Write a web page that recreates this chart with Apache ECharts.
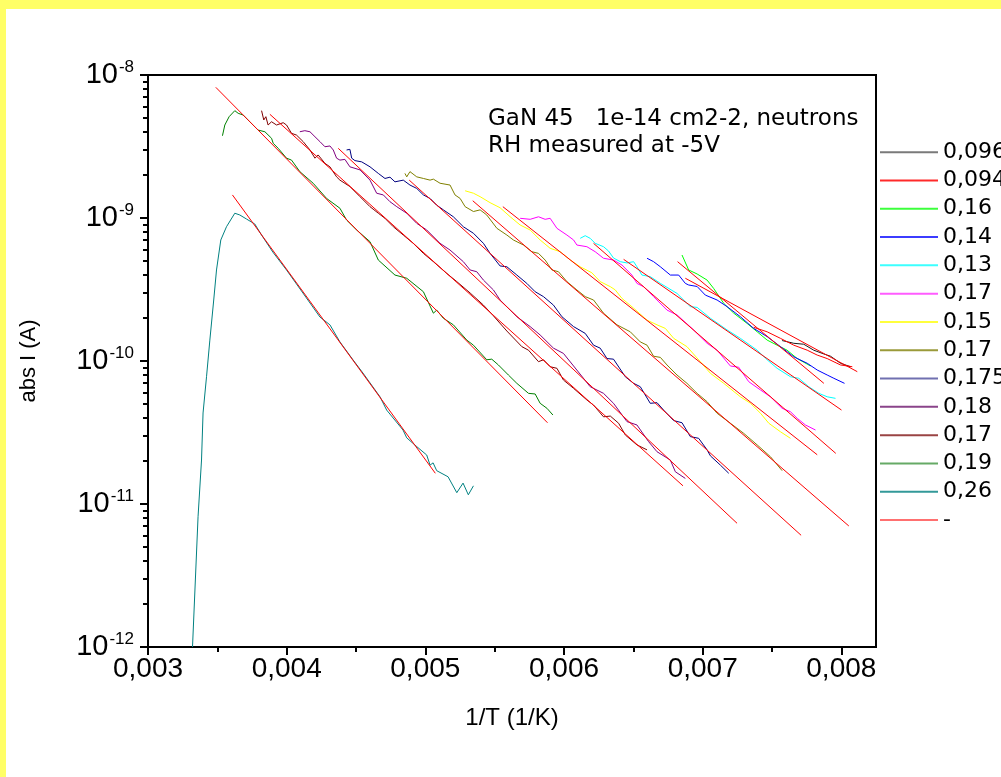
<!DOCTYPE html>
<html><head><meta charset="utf-8">
<script src="https://cdn.jsdelivr.net/npm/echarts@6/dist/echarts.min.js"></script>
<style>
html,body{margin:0;padding:0;background:#ffff66;overflow:hidden;}
#wrap{position:absolute;left:0;top:0;width:1001px;height:777px;background:#ffff66;}
#chart{position:absolute;left:6px;top:9px;width:995px;height:768px;background:#ffffff;}
</style></head><body>
<div id="wrap"><div id="chart"></div></div>
<script>
// ---- legend / series names and colours ----
const seriesNames = ['0,096','0,094','0,16','0,14','0,13','0,17','0,15','0,17\u200b','0,175','0,18','0,17\u200b\u200b','0,19','0,26','-'];
const seriesColors = ['#1a1a1a','#ff0000','#00ff00','#0000ff','#00ffff','#ff00ff','#ffff00','#808000','#000080','#800080','#800000','#008000','#008080','#ff0000'];
const legendColors = ['#7a7a7a','#ff2a2a','#3cff3c','#3c3cff','#3cffff','#ff5cff','#ffff3c','#9a9a3a','#7070b0','#8a448a','#9a4444','#66aa66','#339999','#ff7070'];

// ---- axis ticks ----
const xTicks = [0.003, 0.004, 0.005, 0.006, 0.007, 0.008];
const xMinorTicks = [0.0035, 0.0045, 0.0055, 0.0065, 0.0075];
const yTicks = [1e-12, 1e-11, 1e-10, 1e-9, 1e-8];
const yMinorTicks = [2e-12,3e-12,4e-12,5e-12,6e-12,7e-12,8e-12,9e-12,
  2e-11,3e-11,4e-11,5e-11,6e-11,7e-11,8e-11,9e-11,
  2e-10,3e-10,4e-10,5e-10,6e-10,7e-10,8e-10,9e-10,
  2e-9,3e-9,4e-9,5e-9,6e-9,7e-9,8e-9,9e-9];

// ---- data: 1/T (1/K) and abs I (A) ----
const x_0096 = [0.007573,0.007657,0.007729,0.007801,0.007874,0.007922,0.007994,0.008066];
const y_0096 = [1.39e-10,1.33e-10,1.31e-10,1.19e-10,1.12e-10,1.08e-10,9.64e-11,9.12e-11];

const x_0094 = [0.007368,0.007465,0.007561,0.007657,0.007754,0.007826,0.007898,0.007994,0.008079];
const y_0094 = [1.72e-10,1.60e-10,1.44e-10,1.29e-10,1.19e-10,1.10e-10,1.04e-10,9.38e-11,9.12e-11];

const x_016 = [0.006851,0.006899,0.006960,0.007032,0.007079,0.007152,0.007224,0.007321,0.007393,0.007465,0.007537,0.007609,0.007682,0.007778];
const y_016 = [5.51e-10,4.33e-10,4.06e-10,3.68e-10,3.22e-10,2.53e-10,2.16e-10,1.83e-10,1.60e-10,1.40e-10,1.29e-10,1.19e-10,1.04e-10,9.23e-11];

const x_014 = [0.006599,0.006646,0.006695,0.006767,0.006827,0.006875,0.006899,0.006960,0.007019,0.007104,0.007176,0.007272,0.007368,0.007465,0.007561,0.007657,0.007754,0.007826,0.007898,0.007946,0.008023];
const y_014 = [5.23e-10,4.95e-10,4.56e-10,3.99e-10,3.99e-10,3.49e-10,3.40e-10,3.32e-10,2.89e-10,2.67e-10,2.40e-10,2.04e-10,1.69e-10,1.48e-10,1.26e-10,1.07e-10,9.64e-11,8.65e-11,7.98e-11,7.57e-11,6.98e-11];

const x_013 = [0.006117,0.006153,0.006189,0.006225,0.006285,0.006321,0.006357,0.006406,0.006454,0.006502,0.006526,0.006562,0.006622,0.006695,0.006815,0.006911,0.006960,0.007056,0.007176,0.007272,0.007393,0.007465,0.007537,0.007633,0.007693,0.007765,0.007838,0.007898,0.007958];
const y_013 = [7.21e-10,7.52e-10,7.21e-10,6.65e-10,6.30e-10,5.88e-10,5.25e-10,4.95e-10,4.85e-10,4.95e-10,4.56e-10,3.99e-10,3.89e-10,3.49e-10,2.97e-10,2.40e-10,2.37e-10,1.99e-10,1.65e-10,1.44e-10,1.19e-10,1.02e-10,8.89e-11,7.76e-11,7.57e-11,6.61e-11,5.94e-11,5.62e-11,5.48e-11];

const x_017m = [0.005684,0.005756,0.005816,0.005864,0.005900,0.005949,0.006021,0.006069,0.006093,0.006165,0.006225,0.006285,0.006357,0.006418,0.006490,0.006526,0.006574,0.006646,0.006743,0.006815,0.006923,0.007032,0.007104,0.007200,0.007260,0.007332,0.007417,0.007489,0.007573,0.007633,0.007682,0.007741,0.007814];
const y_017m = [9.95e-10,9.79e-10,1.02e-9,9.79e-10,9.95e-10,8.47e-10,7.60e-10,7.02e-10,6.47e-10,6.30e-10,5.81e-10,5.23e-10,5.08e-10,4.69e-10,3.99e-10,3.49e-10,3.31e-10,2.82e-10,2.27e-10,2.10e-10,1.69e-10,1.33e-10,1.19e-10,9.23e-11,9.04e-11,7.17e-11,6.27e-11,5.62e-11,4.67e-11,4.42e-11,3.97e-11,3.57e-11,3.29e-11];

const x_015 = [0.005287,0.005347,0.005395,0.005467,0.005539,0.005612,0.005684,0.005756,0.005828,0.005900,0.005973,0.006045,0.006117,0.006201,0.006261,0.006334,0.006370,0.006418,0.006502,0.006599,0.006671,0.006731,0.006791,0.006887,0.006983,0.007056,0.007152,0.007272,0.007345,0.007417,0.007477,0.007561,0.007633];
const y_015 = [1.55e-9,1.49e-9,1.41e-9,1.28e-9,1.18e-9,1.02e-9,8.93e-10,8.24e-10,7.02e-10,6.14e-10,5.81e-10,5.08e-10,4.56e-10,4.14e-10,3.59e-10,3.31e-10,3.14e-10,2.74e-10,2.34e-10,1.93e-10,1.79e-10,1.69e-10,1.44e-10,1.26e-10,9.89e-11,8.20e-11,6.98e-11,5.62e-11,5.06e-11,4.31e-11,3.67e-11,3.20e-11,2.88e-11];

const x_017o = [0.004853,0.004866,0.004889,0.004938,0.004986,0.005034,0.005058,0.005106,0.005178,0.005214,0.005251,0.005287,0.005347,0.005395,0.005443,0.005516,0.005588,0.005635,0.005708,0.005768,0.005816,0.005864,0.005913,0.005960,0.006021,0.006093,0.006153,0.006213,0.006285,0.006382,0.006478,0.006550,0.006599,0.006646,0.006695,0.006743,0.006815,0.006887,0.006960,0.007032,0.007104,0.007200,0.007296,0.007393,0.007489,0.007573];
const y_017o = [2.05e-9,1.94e-9,2.11e-9,1.94e-9,1.89e-9,1.84e-9,1.87e-9,1.75e-9,1.70e-9,1.45e-9,1.37e-9,1.20e-9,1.11e-9,1.14e-9,1.05e-9,8.47e-10,7.60e-10,7.02e-10,6.47e-10,5.81e-10,5.66e-10,5.08e-10,4.33e-10,4.21e-10,3.59e-10,3.14e-10,2.82e-10,2.67e-10,2.16e-10,1.79e-10,1.60e-10,1.36e-10,1.29e-10,1.08e-10,1.06e-10,9.38e-11,7.98e-11,6.98e-11,5.94e-11,5.19e-11,4.31e-11,3.67e-11,3.12e-11,2.59e-11,2.14e-11,1.71e-11];

const x_0175 = [0.004432,0.004456,0.004469,0.004492,0.004541,0.004601,0.004661,0.004709,0.004745,0.004781,0.004841,0.004889,0.004938,0.004986,0.005034,0.005082,0.005130,0.005202,0.005274,0.005347,0.005419,0.005467,0.005539,0.005588,0.005660,0.005732,0.005792,0.005852,0.005924,0.005985,0.006069,0.006153,0.006213,0.006261,0.006310,0.006357,0.006442,0.006502,0.006550,0.006622,0.006671,0.006718,0.006791,0.006851,0.006911,0.006971,0.007032,0.007056,0.007128,0.007188];
const y_0175 = [2.99e-9,3.02e-9,2.62e-9,2.52e-9,2.47e-9,2.28e-9,2.05e-9,1.89e-9,1.93e-9,1.79e-9,1.84e-9,1.70e-9,1.61e-9,1.45e-9,1.37e-9,1.23e-9,1.14e-9,1.02e-9,8.69e-10,7.82e-10,6.65e-10,5.66e-10,4.62e-10,4.56e-10,3.99e-10,3.49e-10,3.05e-10,2.82e-10,2.46e-10,2.04e-10,1.74e-10,1.56e-10,1.29e-10,1.23e-10,1.04e-10,1.03e-10,7.76e-11,6.98e-11,6.61e-11,5.06e-11,5.11e-11,4.54e-11,3.83e-11,3.70e-11,2.96e-11,2.88e-11,2.39e-11,2.17e-11,1.87e-11,1.64e-11];

const x_018 = [0.004095,0.004131,0.004168,0.004204,0.004240,0.004276,0.004312,0.004336,0.004360,0.004384,0.004420,0.004456,0.004529,0.004601,0.004649,0.004697,0.004745,0.004794,0.004866,0.004938,0.005010,0.005106,0.005178,0.005274,0.005323,0.005371,0.005419,0.005491,0.005539,0.005612,0.005660,0.005756,0.005828,0.005924,0.005996,0.006069,0.006189,0.006285,0.006357,0.006454,0.006526,0.006610,0.006671,0.006767,0.006803,0.006875];
const y_018 = [4.01e-9,4.08e-9,4.01e-9,3.70e-9,3.42e-9,3.15e-9,3.19e-9,2.99e-9,2.62e-9,2.54e-9,2.57e-9,2.28e-9,2.17e-9,1.84e-9,1.49e-9,1.45e-9,1.30e-9,1.20e-9,1.08e-9,9.18e-10,8.24e-10,6.65e-10,5.97e-10,4.95e-10,4.33e-10,4.21e-10,3.68e-10,3.14e-10,2.67e-10,2.27e-10,2.04e-10,1.74e-10,1.52e-10,1.23e-10,1.13e-10,9.23e-11,6.61e-11,5.94e-11,5.06e-11,3.77e-11,3.57e-11,2.73e-11,2.32e-11,2.03e-11,1.68e-11,1.51e-11];

const x_017w = [0.003819,0.003835,0.003850,0.003866,0.003891,0.003927,0.003975,0.003999,0.004035,0.004071,0.004119,0.004168,0.004204,0.004227,0.004276,0.004312,0.004360,0.004384,0.004456,0.004529,0.004601,0.004661,0.004709,0.004769,0.004841,0.004913,0.004986,0.005058,0.005154,0.005227,0.005323,0.005419,0.005491,0.005588,0.005696,0.005744,0.005816,0.005852,0.005900,0.005949,0.005996,0.006069,0.006165,0.006213,0.006285,0.006334,0.006394,0.006442,0.006526,0.006599];
const y_017w = [5.63e-9,4.85e-9,5.11e-9,4.47e-9,4.71e-9,4.47e-9,4.64e-9,4.47e-9,3.91e-9,3.80e-9,3.42e-9,2.99e-9,2.62e-9,2.76e-9,2.41e-9,2.28e-9,1.94e-9,1.84e-9,1.66e-9,1.41e-9,1.20e-9,1.08e-9,9.95e-10,8.69e-10,7.60e-10,6.65e-10,5.66e-10,4.95e-10,4.10e-10,3.59e-10,2.99e-10,2.46e-10,2.07e-10,1.62e-10,1.26e-10,1.19e-10,9.89e-11,1.02e-10,9.12e-11,8.89e-11,7.36e-11,6.44e-11,5.34e-11,4.92e-11,4.07e-11,4.12e-11,3.67e-11,3.04e-11,2.59e-11,2.39e-11];

const x_019 = [0.003537,0.003554,0.003585,0.003626,0.003650,0.003662,0.003686,0.003734,0.003794,0.003843,0.003891,0.003903,0.003939,0.003999,0.004035,0.004095,0.004191,0.004288,0.004384,0.004432,0.004505,0.004601,0.004661,0.004781,0.004866,0.004986,0.005058,0.005082,0.005130,0.005202,0.005299,0.005347,0.005443,0.005479,0.005527,0.005599,0.005660,0.005744,0.005792,0.005828,0.005877,0.005920];
const y_019 = [3.76e-9,4.47e-9,5.11e-9,5.63e-9,5.40e-9,5.54e-9,5.25e-9,4.71e-9,4.12e-9,4.01e-9,3.61e-9,3.33e-9,3.07e-9,2.62e-9,2.54e-9,2.11e-9,1.75e-9,1.37e-9,1.17e-9,9.68e-10,8.24e-10,6.83e-10,5.08e-10,3.99e-10,3.79e-10,3.05e-10,2.16e-10,2.27e-10,1.99e-10,1.79e-10,1.40e-10,1.29e-10,1.02e-10,1.03e-10,9.38e-11,7.98e-11,6.98e-11,5.94e-11,5.88e-11,5.06e-11,4.67e-11,4.19e-11];

const x_026 = [0.003321,0.003361,0.003386,0.003397,0.003422,0.003446,0.003474,0.003494,0.003525,0.003566,0.003626,0.003662,0.003710,0.003770,0.003819,0.003900,0.003999,0.004117,0.004240,0.004312,0.004384,0.004478,0.004550,0.004673,0.004721,0.004839,0.004866,0.004938,0.005010,0.005034,0.005056,0.005082,0.005164,0.005227,0.005272,0.005310,0.005347];
const y_026 = [1.0e-12,8.15e-12,2.03e-11,4.33e-11,7.76e-11,1.40e-10,2.67e-10,4.33e-10,7.02e-10,8.69e-10,1.08e-9,1.05e-9,9.84e-10,9.08e-10,7.60e-10,5.78e-10,4.33e-10,2.99e-10,2.03e-10,1.79e-10,1.36e-10,1.02e-10,8.24e-11,5.62e-11,4.54e-11,3.29e-11,2.90e-11,2.52e-11,2.20e-11,1.87e-11,1.94e-11,1.71e-11,1.55e-11,1.20e-11,1.40e-11,1.16e-11,1.34e-11];

// ---- straight-line fits ("-"): start and end points ----
const fitX0 = [0.003489,0.003609,0.003879,0.004372,0.004884,0.005342,0.005559,0.006213,0.006430,0.006819,0.006875];
const fitY0 = [8.20e-9,1.45e-9,5.31e-9,3.07e-9,1.84e-9,1.32e-9,1.20e-9,6.65e-10,5.14e-10,4.95e-10,3.79e-10];
const fitX1 = [0.005881,0.005072,0.006858,0.007248,0.007710,0.008054,0.007826,0.007960,0.008001,0.007874,0.008115];
const fitY1 = [3.70e-11,1.64e-11,1.34e-11,7.33e-12,6.04e-12,7.02e-12,2.21e-11,2.26e-11,4.54e-11,6.98e-11,8.42e-11];

const curveX = [x_0096,x_0094,x_016,x_014,x_013,x_017m,x_015,x_017o,x_0175,x_018,x_017w,x_019,x_026];
const curveY = [y_0096,y_0094,y_016,y_014,y_013,y_017m,y_015,y_017o,y_0175,y_018,y_017w,y_019,y_026];

const series = [];
curveX.forEach((xs, k) => {
  series.push({
    type: 'line', name: seriesNames[k], xAxisIndex: 0, yAxisIndex: 0,
    data: xs.map((v, i) => [v, curveY[k][i]]),
    showSymbol: false, symbol: 'none', smooth: false, animation: false,
    lineStyle: { width: 1, color: seriesColors[k] },
    itemStyle: { color: seriesColors[k] },
    emphasis: { disabled: true }, z: 2
  });
});
fitX0.forEach((x0, i) => {
  series.push({
    type: 'line', name: '-', xAxisIndex: 0, yAxisIndex: 0,
    data: [[x0, fitY0[i]], [fitX1[i], fitY1[i]]],
    showSymbol: false, symbol: 'none', animation: false,
    lineStyle: { width: 1, color: '#ff0000' }, itemStyle: { color: '#ff0000' },
    emphasis: { disabled: true }, z: 3
  });
});

const AX = 'Liberation Sans';
const chart = echarts.init(document.getElementById('chart'), null, { renderer: 'canvas' });
chart.setOption({
  backgroundColor: '#ffffff',
  animation: false,
  grid: { left: 142, top: 66, right: 125, bottom: 130, show: true, borderColor: '#000', borderWidth: 2,
          backgroundColor: 'transparent', containLabel: false, outerBoundsMode: 'none' },
  legend: {
    orient: 'vertical', left: 874, top: 129, itemWidth: 58, itemHeight: 2, itemGap: 0, icon: 'rect',
    padding: 0, selectedMode: false,
    textStyle: { fontFamily: 'DejaVu Sans', fontSize: 22, color: '#000', lineHeight: 28.3 },
    data: seriesNames.map((n, i) => ({ name: n, itemStyle: { color: legendColors[i] } }))
  },
  xAxis: [{
    type: 'value', min: 0.003, max: 0.00825, position: 'bottom',
    axisLine: { show: true, onZero: false, lineStyle: { color: '#000', width: 2 } },
    axisTick: { show: true, length: 8, customValues: xTicks, lineStyle: { color: '#000', width: 2 } },
    axisLabel: { customValues: xTicks, formatter: v => v.toFixed(3).replace('.', ','),
                 fontFamily: AX, fontSize: 28, color: '#000', margin: 8 },
    splitLine: { show: false },
    name: '1/T (1/K)', nameLocation: 'middle', nameGap: 59,
    nameTextStyle: { fontFamily: AX, fontSize: 24, color: '#000' }
  }, {
    type: 'value', min: 0.003, max: 0.00825, position: 'bottom',
    axisLine: { show: false, onZero: false },
    axisTick: { show: true, length: 5, customValues: xMinorTicks, lineStyle: { color: '#000', width: 2 } },
    axisLabel: { show: false }, splitLine: { show: false }
  }],
  yAxis: [{
    type: 'log', logBase: 10, min: 1e-12, max: 1e-8, position: 'left',
    axisLine: { show: true, onZero: false, lineStyle: { color: '#000', width: 2 } },
    axisTick: { show: true, length: 8, customValues: yTicks, lineStyle: { color: '#000', width: 2 } },
    axisLabel: {
      customValues: yTicks, margin: 14,
      formatter: v => '{b|10}{s|' + Math.round(Math.log10(v)) + '}',
      rich: {
        b: { fontFamily: AX, fontSize: 29, color: '#000' },
        s: { fontFamily: AX, fontSize: 17, color: '#000', padding: [0, 0, 16, 1] }
      }
    },
    splitLine: { show: false },
    name: 'abs I (A)', nameLocation: 'middle', nameRotate: 90, nameGap: 108,
    nameTextStyle: { fontFamily: AX, fontSize: 22, color: '#000' }
  }, {
    type: 'log', logBase: 10, min: 1e-12, max: 1e-8, position: 'left',
    axisLine: { show: false, onZero: false },
    axisTick: { show: true, length: 5, customValues: yMinorTicks, lineStyle: { color: '#000', width: 2 } },
    axisLabel: { show: false }, splitLine: { show: false }
  }],
  graphic: [
    { type: 'text', x: 482, y: 110, silent: true,
      style: { text: 'GaN 45   1e-14 cm2-2, neutrons', fontFamily: 'DejaVu Sans', fontSize: 23,
               fill: '#000', align: 'left', verticalAlign: 'middle' } },
    { type: 'text', x: 482, y: 137, silent: true,
      style: { text: 'RH measured at -5V', fontFamily: 'DejaVu Sans', fontSize: 23,
               fill: '#000', align: 'left', verticalAlign: 'middle' } }
  ],
  series: series
});
</script></body></html>
